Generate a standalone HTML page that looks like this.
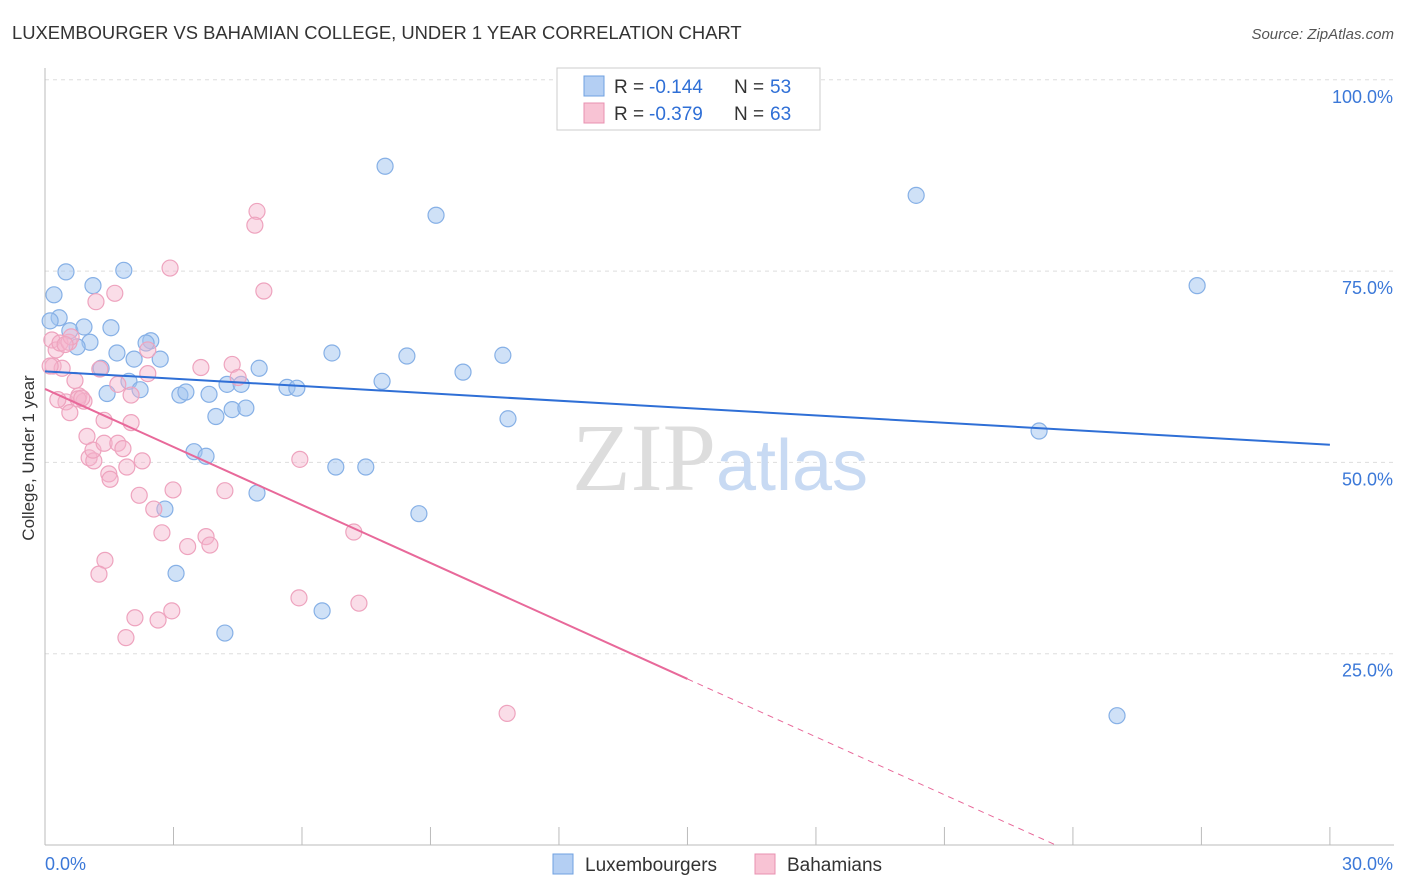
<!DOCTYPE html>
<html><head><meta charset="utf-8"><style>
body{margin:0;background:#fff;font-family:"Liberation Sans",sans-serif;}
svg{display:block}
</style></head><body>
<svg id="chart" width="1406" height="892" xmlns="http://www.w3.org/2000/svg">
<text x="12" y="39" font-size="18.4" fill="#333">LUXEMBOURGER VS BAHAMIAN COLLEGE, UNDER 1 YEAR CORRELATION CHART</text>
<text x="1394" y="39" font-size="15" fill="#555" text-anchor="end" font-style="italic">Source: ZipAtlas.com</text>
<g id="grid"></g>
<text x="720" y="490" font-size="96" fill="#ddd" text-anchor="middle" font-family="Liberation Serif, serif">ZIP<tspan fill="#c8daf3" font-family="Liberation Sans, sans-serif" font-size="72">atlas</tspan></text>
<text transform="translate(34,458) rotate(-90)" font-size="17" fill="#333" text-anchor="middle">College, Under 1 year</text>
<g id="marks"></g>
<g>
<rect x="557" y="68" width="263" height="62" fill="#fff" stroke="#ccc"/>
<rect x="584" y="76" width="20" height="20" fill="#b4cff3" stroke="#6fa0e0"/>
<text x="614" y="93" font-size="19" fill="#333">R =</text>
<text x="649" y="93" font-size="19" fill="#2f6fd6">-0.144</text>
<text x="734" y="93" font-size="19" fill="#333">N =</text>
<text x="770" y="93" font-size="19" fill="#2f6fd6">53</text>
<rect x="584" y="103" width="20" height="20" fill="#f8c3d4" stroke="#e890b0"/>
<text x="614" y="120" font-size="19" fill="#333">R =</text>
<text x="649" y="120" font-size="19" fill="#2f6fd6">-0.379</text>
<text x="734" y="120" font-size="19" fill="#333">N =</text>
<text x="770" y="120" font-size="19" fill="#2f6fd6">63</text>
</g>
<g>
<rect x="553" y="854" width="20" height="20" fill="#b4cff3" stroke="#6fa0e0"/>
<text x="585" y="871" font-size="19" fill="#333">Luxembourgers</text>
<rect x="755" y="854" width="20" height="20" fill="#f8c3d4" stroke="#e890b0"/>
<text x="787" y="871" font-size="19" fill="#333">Bahamians</text>
</g>
</svg>
<script>
const xTicks=[0,3,6,9,12,15,18,21,24,27,30];
const yTicks=[25,50,75,100];
const yTickLabels=["25.0%","50.0%","75.0%","100.0%"];
const luxX=[0.21,0.49,0.33,0.58,0.91,1.12,1.05,0.75,1.84,1.54,2.47,2.36,1.68,2.08,2.69,1.31,1.96,1.45,2.22,3.15,3.29,3.83,4.25,4.58,5.00,5.65,5.88,3.99,4.37,4.69,3.48,3.76,2.80,4.95,3.06,4.20,6.79,7.49,6.47,7.94,9.13,6.70,8.45,7.87,9.76,10.69,10.81,8.73,20.34,26.90,23.21,25.03,0.12];
const luxY=[71.9,74.9,68.9,67.2,67.7,73.1,65.7,65.1,75.1,67.6,65.9,65.6,64.3,63.5,63.5,62.3,60.6,59.0,59.5,58.8,59.2,58.9,60.2,60.2,62.3,59.8,59.7,56.0,56.9,57.1,51.4,50.8,43.9,46.0,35.5,27.7,49.4,49.4,30.6,88.7,82.3,64.3,63.9,60.6,61.8,64.0,55.7,43.3,84.9,73.1,54.1,16.9,68.5];
const bahX=[0.16,0.26,0.35,0.19,0.40,0.56,0.61,0.49,0.70,0.79,0.91,0.77,0.98,1.03,1.14,1.12,1.19,1.28,1.38,1.38,1.49,1.52,1.63,1.70,1.70,1.82,1.91,2.01,2.01,2.27,2.40,2.40,2.92,4.95,4.90,5.11,3.64,4.37,4.51,2.20,2.99,2.54,2.73,3.33,3.76,3.85,4.20,1.40,1.26,2.10,1.89,2.64,2.96,5.93,7.33,7.21,5.95,10.79,0.86,0.47,0.30,0.58,0.12];
const bahY=[66.0,64.7,65.6,62.6,62.3,65.7,66.4,57.9,60.7,58.7,58.0,58.3,53.4,50.6,50.2,51.6,71.0,62.2,55.5,52.5,48.5,47.8,72.1,60.2,52.5,51.8,49.4,58.8,55.2,50.2,64.7,61.6,75.4,82.8,81.0,72.4,62.4,62.8,61.1,45.7,46.4,43.9,40.8,39.0,40.3,39.2,46.3,37.2,35.4,29.7,27.1,29.4,30.6,32.3,31.6,40.9,50.4,17.2,58.4,65.4,58.2,56.5,62.6];
const luxLine=[61.9,52.3];
const bahLine=[59.6,21.7,0,23.6];
const X=v=>45+v*42.83, Y=v=>845-v*7.652;
const NS="http://www.w3.org/2000/svg";
function mk(tag,attrs,parent){const e=document.createElementNS(NS,tag);for(const k in attrs)e.setAttribute(k,attrs[k]);parent.appendChild(e);return e;}
const g=document.getElementById('grid'),m=document.getElementById('marks');
yTicks.forEach((t,i)=>{
 const l=mk('line',{x1:45,x2:1394,y1:Y(t),y2:Y(t),stroke:'#ddd','stroke-dasharray':'4,4'},g);
 
 
 const tx=mk('text',{x:1393,y:Y(t)+23,'font-size':18,fill:'#3b78d8','text-anchor':'end'},g);
 tx.textContent=yTickLabels[i];
 
 
});
const ax=mk('line',{x1:45,x2:45,y1:68,y2:845,stroke:'#bbb'},g);

const bx=mk('line',{x1:45,x2:1394,y1:845,y2:845,stroke:'#bbb'},g);

xTicks.forEach(t=>{const l=mk('line',{x1:X(t),x2:X(t),y1:827,y2:845,stroke:'#bbb'},g);
 
 });
const xl0=mk('text',{x:45,y:870,'font-size':18,fill:'#3b78d8'},g);xl0.textContent=xTicks[0].toFixed(1)+'%';

const xl1=mk('text',{x:1393,y:870,'font-size':18,fill:'#3b78d8','text-anchor':'end'},g);xl1.textContent=xTicks[xTicks.length-1].toFixed(1)+'%';

luxX.forEach((x,i)=>{const c=mk('circle',{cx:X(x),cy:Y(luxY[i]),r:8,fill:'rgba(160,195,240,0.5)',stroke:'#86b0e6','stroke-width':1.2},m);
 
 });
bahX.forEach((x,i)=>{const c=mk('circle',{cx:X(x),cy:Y(bahY[i]),r:8,fill:'rgba(245,180,204,0.45)',stroke:'#eea3be','stroke-width':1.2},m);
 
 });
const l1=mk('line',{x1:X(0),y1:Y(luxLine[0]),x2:X(30),y2:Y(luxLine[1]),stroke:'#2f6fd6','stroke-width':2},m);

const l2=mk('line',{x1:X(0),y1:Y(bahLine[0]),x2:X(15),y2:Y(bahLine[1]),stroke:'#e8699a','stroke-width':2},m);

const l3=mk('line',{x1:X(15),y1:Y(bahLine[1]),x2:X(bahLine[3]),y2:Y(bahLine[2]),stroke:'#e8699a','stroke-width':1,'stroke-dasharray':'6,5'},m);

</script>
</body></html>
